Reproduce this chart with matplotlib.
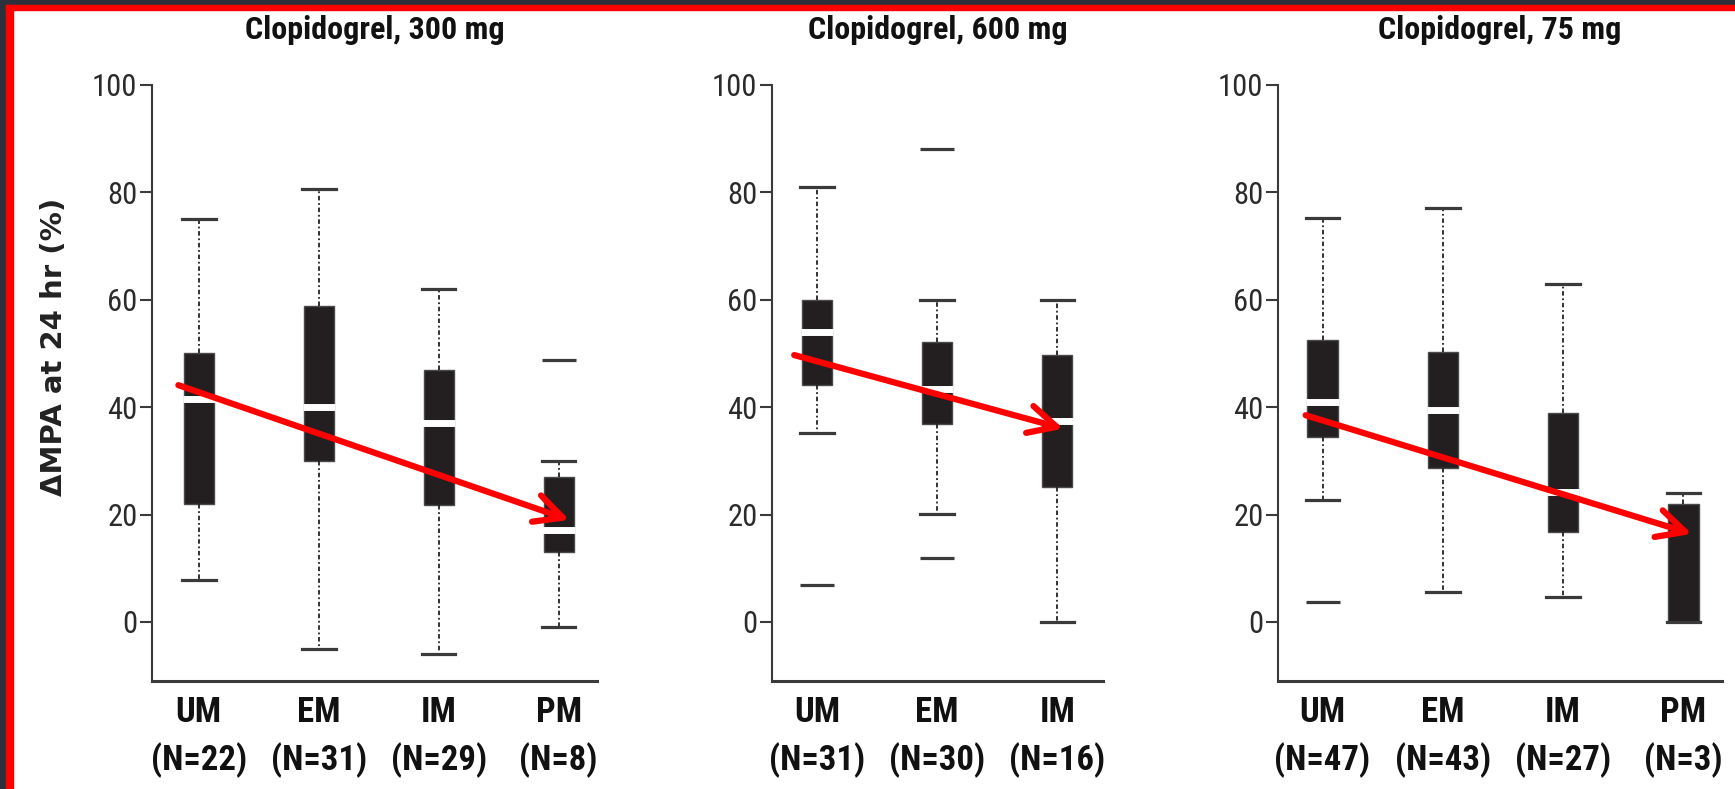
import numpy as np
import matplotlib.pyplot as plt
from matplotlib.patches import Rectangle

cond = ['Roboto Condensed', 'DejaVu Sans']
plt.rcParams['font.family'] = cond
plt.rcParams['font.stretch'] = 'condensed'

# Clopidogrel 300 mg
groups_300 = ["UM", "EM", "IM", "PM"]
n_300 = [22, 31, 29, 8]
q1_300 = [22.0, 30.0, 21.7, 13.1]
med_300 = [41.5, 40.0, 37.0, 17.2]
q3_300 = [50.0, 58.8, 47.0, 27.0]
lo_300 = [7.8, -5.0, -6.0, -0.9]
hi_300 = [75.0, 80.7, 62.0, 30.0]
out_300 = [[], [], [], [48.8]]
trend_300 = [(0.83, 44.1), (4.09, 19.0)]

# Clopidogrel 600 mg
groups_600 = ["UM", "EM", "IM"]
n_600 = [31, 30, 16]
q1_600 = [44.1, 36.9, 25.1]
med_600 = [54.0, 43.4, 37.4]
q3_600 = [60.0, 52.1, 49.7]
lo_600 = [35.1, 20.1, 0.0]
hi_600 = [81.0, 60.0, 60.0]
out_600 = [[6.9], [88.0, 11.9], []]
trend_600 = [(0.81, 49.7), (3.05, 36.0)]

# Clopidogrel 75 mg
groups_75 = ["UM", "EM", "IM", "PM"]
n_75 = [47, 43, 27, 3]
q1_75 = [34.5, 28.6, 16.8, 0.0]
med_75 = [41.0, 39.5, 24.2, np.nan]
q3_75 = [52.5, 50.3, 38.9, 21.9]
lo_75 = [22.8, 5.5, 4.6, 0.0]
hi_75 = [75.2, 77.0, 63.0, 24.1]
out_75 = [[3.7], [], [], []]
trend_75 = [(0.86, 38.5), (4.07, 16.4)]

titles = ["Clopidogrel, 300 mg", "Clopidogrel, 600 mg", "Clopidogrel, 75 mg"]
yticks = [0, 20, 40, 60, 80, 100]

W, H = 1735, 789
fig = plt.figure(figsize=(W / 100, H / 100), dpi=100)
fig.patch.set_facecolor("white")

# panel rectangles in pixels: left, right, x-limits
ax_top, ax_bot = 85, 681
panels = [
    (152, 597, (0.61, 4.32)),
    (772, 1103, (0.625, 3.38)),
    (1278, 1722, (0.63, 4.32)),
]

data = [
    (groups_300, n_300, q1_300, med_300, q3_300, lo_300, hi_300, out_300, trend_300),
    (groups_600, n_600, q1_600, med_600, q3_600, lo_600, hi_600, out_600, trend_600),
    (groups_75, n_75, q1_75, med_75, q3_75, lo_75, hi_75, out_75, trend_75),
]

box_w = 0.25
for i, ((left, right, xlim), d) in enumerate(zip(panels, data)):
    groups, counts, q1, med, q3, lo, hi, outl, trend = d
    ax = fig.add_axes([left / W, (H - ax_bot) / H, (right - left) / W, (ax_bot - ax_top) / H])
    pos = np.arange(1, len(groups) + 1)
    stats = []
    for a, m, b, l, h, f in zip(q1, med, q3, lo, hi, outl):
        stats.append(dict(q1=a, med=a if np.isnan(m) else m, q3=b, whislo=l, whishi=h, fliers=f))
    ax.bxp(stats, positions=pos, widths=box_w, capwidths=0.28, patch_artist=True,
           boxprops=dict(facecolor="#231f20", edgecolor="#4a4a4a", linewidth=1),
           whiskerprops=dict(color="#222222", linewidth=1.3, linestyle=(0, (2.5, 1.5, 1, 1.5))),
           capprops=dict(color="#3a3a3a", linewidth=2.3),
           medianprops=dict(visible=False),
           flierprops=dict(marker="_", markersize=24, markeredgewidth=2.3,
                           markeredgecolor="#3a3a3a"))
    # medians as white gaps through the boxes
    for x, m in zip(pos, med):
        if np.isfinite(m):
            ax.plot([x - box_w / 2 - 0.01, x + box_w / 2 + 0.01], [m, m], color="white",
                    lw=5, solid_capstyle="butt", zorder=3)

    ax.annotate("", xy=trend[1], xytext=trend[0],
                arrowprops=dict(arrowstyle="->,head_length=1.0,head_width=0.5",
                                color="#ff0000", lw=4.5, shrinkA=0, shrinkB=0,
                                mutation_scale=20),
                zorder=5)

    ax.set_xlim(*xlim)
    ax.set_ylim(-11, 100)
    ax.set_yticks(yticks)
    ax.set_yticklabels([str(t) for t in yticks], fontsize=22, color="#2b2b2b")
    ax.set_xticks(pos)
    ax.set_xticklabels([f"{g}\n(N={n})" for g, n in zip(groups, counts)],
                       fontsize=25, fontweight="bold", color="#111111", linespacing=1.45)
    ax.tick_params(axis="x", length=0, pad=11)
    ax.tick_params(axis="y", length=8.5, width=1.5, color="#3a3a3a", pad=2)
    for s in ("top", "right"):
        ax.spines[s].set_visible(False)
    ax.spines["left"].set_linewidth(1.5)
    ax.spines["left"].set_color("#3a3a3a")
    ax.spines["bottom"].set_linewidth(2.2)
    ax.spines["bottom"].set_color("#3a3a3a")
    ax.set_title(titles[i], fontsize=23, fontweight="bold", color="#111111", pad=33)
    if i == 0:
        ax.set_ylabel("\u0394MPA at 24 hr (%)", family="DejaVu Sans", stretch="normal",
                      fontsize=21, fontweight="bold", color="#222222")
        ax.yaxis.set_label_coords(-84 / (right - left), 0.56)

# frame around the slide
def band(x0, y0, w, h, color):
    fig.patches.append(Rectangle((x0 / W, 1 - (y0 + h) / H), w / W, h / H,
                                 transform=fig.transFigure, color=color, zorder=10))

band(0, 0, W, 5, "#2b303a")
band(0, 0, 6, H, "#2b303a")
band(6, 5, W, 5, "#ff0000")
band(6, 5, 7, H, "#ff0000")

fig.savefig("out.png", dpi=100)
